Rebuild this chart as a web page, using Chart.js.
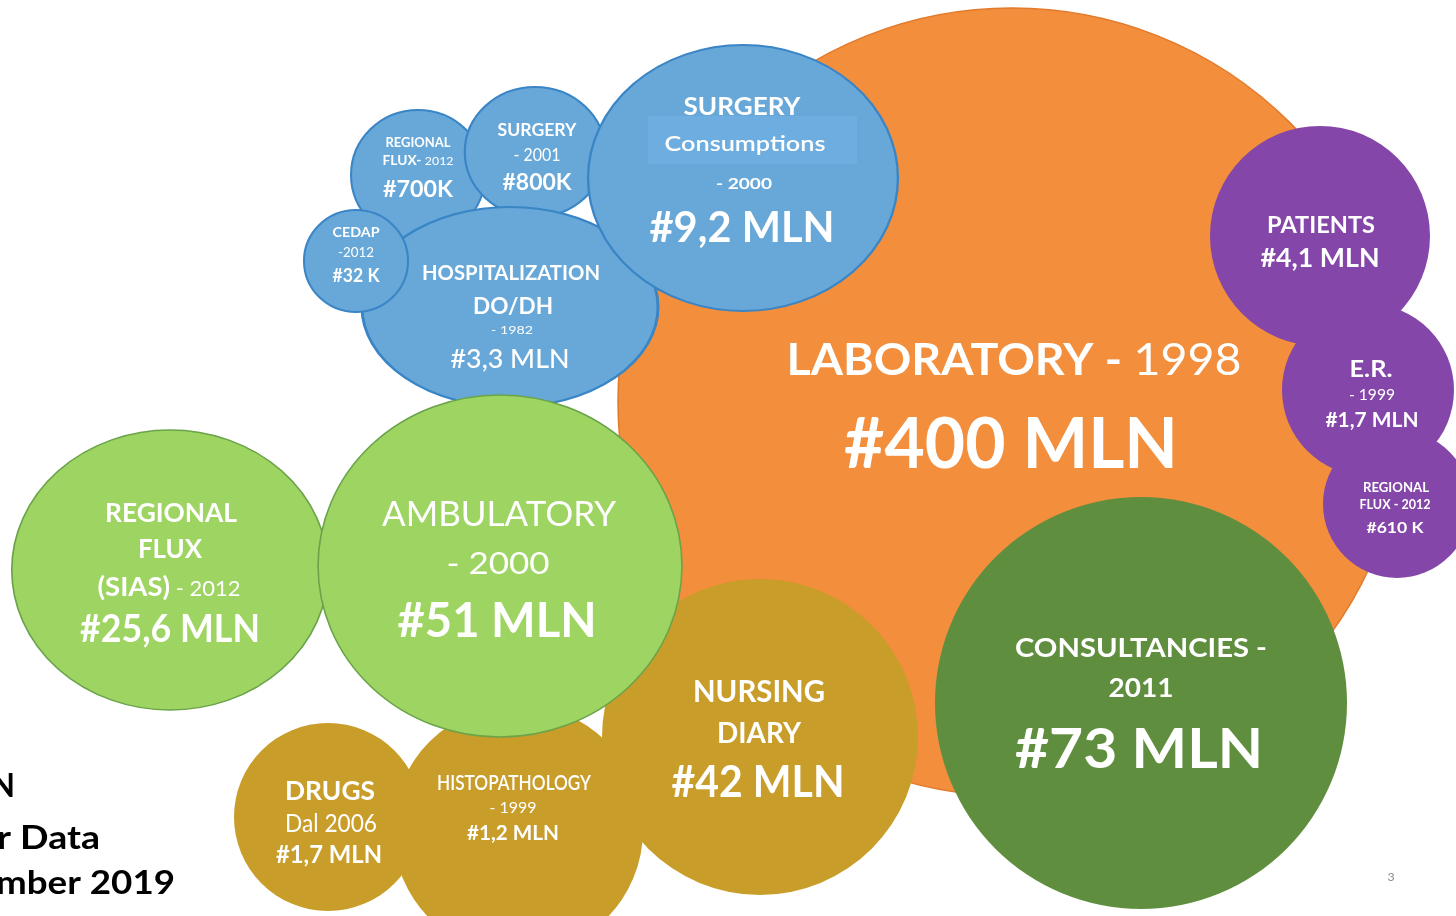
<!DOCTYPE html>
<html>
<head>
<meta charset="utf-8">
<script src="https://cdn.jsdelivr.net/npm/chart.js@4.4.1/dist/chart.umd.min.js"></script>
<style>
  html, body { margin: 0; padding: 0; background: #fff; }
  #wrap { width: 1456px; height: 916px; }
</style>
</head>
<body>
<div id="wrap"><canvas id="bubbles" width="1456" height="916"></canvas></div>
<script>
// bubbles listed back to front (first one is drawn underneath)
const categories = ['Laboratory', 'Patients', 'E.R.', 'Regional Flux (out)', 'Consultancies',
  'Nursing Diary', 'Histopathology', 'Drugs', 'Regional Flux (in)', 'Surgery',
  'Hospitalization DO/DH', 'CEDAP', 'Surgery Consumptions', 'Regional Flux (SIAS)', 'Ambulatory'];
const volumes = ['#400 MLN', '#4,1 MLN', '#1,7 MLN', '#610 K', '#73 MLN',
  '#42 MLN', '#1,2 MLN', '#1,7 MLN', '#700K', '#800K',
  '#3,3 MLN', '#32 K', '#9,2 MLN', '#25,6 MLN', '#51 MLN'];
const xs = [1012, 1320, 1368, 1397, 1141, 760, 518, 328, 418, 535, 510, 356, 743, 170, 500];
const ys = [402, 236, 390, 504, 703, 737, 830, 817, 175, 152, 307, 261, 178, 570, 566];
const radii = [394, 110, 86, 74, 206, 158, 125, 94, 65, 65, 100, 51, 133, 140, 171];

// look
const ORANGE = '#F28E3C', PURPLE = '#8446A8', DKGREEN = '#608E3F', GOLD = '#C99D29',
  BLUE = '#67A8D9', GREEN = '#9ED462';
const groupOf = ['o', 'p', 'p', 'p', 'd', 'g', 'g', 'g', 'b', 'b', 'b', 'b', 'b', 'l', 'l'];
const fills = { o: ORANGE, p: PURPLE, d: DKGREEN, g: GOLD, b: BLUE, l: GREEN };
const edges = { o: '#E27A2B', p: PURPLE, d: DKGREEN, g: GOLD, b: '#3A85C6', l: '#6AA34A' };
const edgeW = { o: 1.5, p: 0, d: 0, g: 0, b: 2, l: 1.5 };
// the slide squashed some bubbles into ellipses (x / y)
const stretch = [1, 1, 1, 1, 1, 1, 1, 1, 1.03, 1.08, 1.48, 1.02, 1.165, 1.13, 1.064];

// text lines per bubble: [dx, dy, cap height, width, text or [[text, weight, sizeFactor]...], weight]
const textLines = [
  [[2, -43, 32, 455, [['LABORATORY - ', 700], ['1998', 400]]], [-1, 40, 51, 334, '#400 MLN']],
  [[1, -12, 17, 108, 'PATIENTS'], [0, 21, 20, 119, '#4,1 MLN']],
  [[3, -22, 17, 43, 'E.R.'], [4, 4, 11, 46, '- 1999', 400], [4, 29, 15, 93, '#1,7 MLN']],
  [[-1, -17, 10, 66, 'REGIONAL'], [-2, 0, 9, 71, 'FLUX - 2012'], [-2, 23, 11, 57, '#610 K']],
  [[0, -56, 20, 252, 'CONSULTANCIES -'], [0, -16, 19, 65, '2011'], [-2, 45, 40, 248, '#73 MLN']],
  [[-1, -46, 22, 132, 'NURSING'], [-1, -5, 21, 84, 'DIARY'], [-2, 44, 32, 173, '#42 MLN']],
  [[-4, -48, 15, 154, 'HISTOPATHOLOGY', 600], [-5, -23, 11, 47, '- 1999', 400], [-5, 2, 15, 92, '#1,2 MLN']],
  [[2, -27, 20, 90, 'DRUGS'], [3, 6, 18, 92, 'Dal 2006', 400], [1, 37, 18, 106, '#1,7 MLN']],
  [[0, -33, 10, 65, 'REGIONAL'], [0, -15, 9, 71, [['FLUX- ', 700], ['2012', 400, 0.9]]], [0, 13, 17, 70, '#700K']],
  [[2, -23, 13, 79, 'SURGERY'], [2, 2, 13, 47, '- 2001', 400], [2, 29, 17, 69, '#800K']],
  [[1, -35, 15, 178, 'HOSPITALIZATION'], [3, -2, 17, 80, 'DO/DH'], [2, 22, 9, 42, '- 1982', 400], [0, 51, 20, 119, '#3,3 MLN', 500]],
  [[0, -29, 10, 47, 'CEDAP'], [0, -9, 10, 36, '-2012', 400], [0, 14, 14, 47, '#32 K']],
  [[-1, -72, 18, 117, 'SURGERY'], [2, -35, 16, 161, 'Consumptions', 600], [1, 5, 11, 56, '- 2000'], [-1, 49, 30, 185, '#9,2 MLN']],
  [[1, -58, 20, 132, 'REGIONAL'], [0, -22, 20, 64, 'FLUX'], [-1, 16, 20, 143, [['(SIAS)', 700], [' - 2012', 400, 0.8]]], [0, 58, 28, 180, '#25,6 MLN']],
  [[-1, -53, 26, 234, 'AMBULATORY', 400], [-2, -4, 23, 103, '- 2000', 400], [-3, 53, 35, 199, '#51 MLN']]
];

let capRatio = 0.72;

function drawLine(ctx, cx, cy, capH, width, parts, color, align) {
  const size = capH / capRatio;
  let total = 0;
  const runs = parts.map(([t, w, f]) => {
    const font = `${w} ${(size * (f || 1)).toFixed(2)}px Lato`;
    ctx.font = font;
    const m = ctx.measureText(t).width;
    total += m;
    return { t, font, m };
  });
  const sx = width ? width / total : 1;
  ctx.save();
  ctx.translate(cx, cy + capH / 2);
  ctx.scale(sx, 1);
  ctx.fillStyle = color;
  ctx.textBaseline = 'alphabetic';
  ctx.textAlign = 'left';
  let x = align === 'right' ? -total : -total / 2;
  runs.forEach(r => { ctx.font = r.font; ctx.fillText(r.t, x, 0); x += r.m; });
  ctx.restore();
}

const stretchPlugin = {
  id: 'stretch',
  beforeDatasetDraw(chart, args) {
    const pt = args.meta.data[0];
    const s = stretch[args.index];
    const ctx = chart.ctx;
    ctx.save();
    ctx.translate(pt.x, pt.y);
    ctx.scale(s, 1);
    ctx.translate(-pt.x, -pt.y);
  },
  afterDatasetDraw(chart) {
    chart.ctx.restore();
  }
};

const textPlugin = {
  id: 'bubbleText',
  afterDatasetsDraw(chart) {
    const ctx = chart.ctx;
    textLines.forEach((lines, i) => {
      const pt = chart.getDatasetMeta(i).data[0];
      if (categories[i] === 'Surgery Consumptions') {
        ctx.fillStyle = '#6DADE0';
        ctx.fillRect(pt.x - 95, pt.y - 62, 209, 48);
      }
      lines.forEach(([dx, dy, capH, w, txt, weight]) => {
        const parts = typeof txt === 'string' ? [[txt, weight || 700]] : txt;
        drawLine(ctx, pt.x + dx, pt.y + dy, capH, w, parts, '#ffffff');
      });
    });

    // cut-off title text at the bottom left of the slide
    [['N', 15, 785, 0], ['r Data', 100, 837, 103], ['mber 2019', 175, 882, 179]].forEach(([t, x, y, w]) => {
      drawLine(ctx, x, y, 23, w, [[t, 700]], '#000000', 'right');
    });
    // slide number
    drawLine(ctx, 1391, 876, 9, 0, [['3', 400]], '#8C8C8C');
  }
};

function build() {
  const probe = document.createElement('canvas').getContext('2d');
  probe.font = '700 100px Lato';
  const m = probe.measureText('H');
  if (m.actualBoundingBoxAscent) capRatio = m.actualBoundingBoxAscent / 100;

  new Chart(document.getElementById('bubbles'), {
    type: 'bubble',
    data: {
      datasets: categories.map((name, i) => ({
        label: name + ' ' + volumes[i],
        data: [{ x: xs[i], y: ys[i], r: radii[i] }],
        backgroundColor: fills[groupOf[i]],
        borderColor: edges[groupOf[i]],
        borderWidth: edgeW[groupOf[i]],
        hoverBorderWidth: edgeW[groupOf[i]],
        order: categories.length - i,
        clip: false
      }))
    },
    options: {
      responsive: false,
      animation: false,
      devicePixelRatio: 1,
      events: [],
      layout: { padding: 0, autoPadding: false },
      scales: {
        x: { type: 'linear', min: 0, max: 1456, display: false },
        y: { type: 'linear', min: 0, max: 916, reverse: true, display: false }
      },
      plugins: { legend: { display: false }, tooltip: { enabled: false } }
    },
    plugins: [stretchPlugin, textPlugin]
  });
}

Promise.all([
  document.fonts.load('700 20px Lato'),
  document.fonts.load('400 20px Lato')
]).then(build, build);
</script>
</body>
</html>
